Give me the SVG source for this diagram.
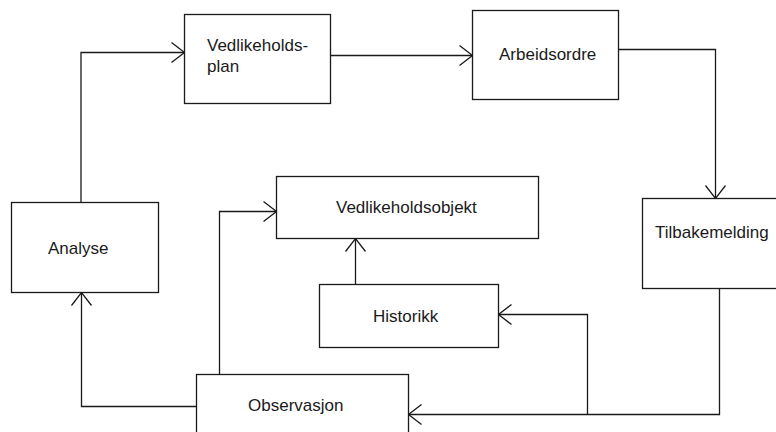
<svg xmlns="http://www.w3.org/2000/svg" width="776" height="432" viewBox="0 0 776 432">
  <defs>
    <style>
      .box { fill: #ffffff; stroke: #1a1a1a; stroke-width: 1.3; }
      .lbl { font-family: "Liberation Sans", Arial, sans-serif; font-size: 17px; fill: #1a1a1a; }
      .edge { fill: none; stroke: #1a1a1a; stroke-width: 1.3; marker-end: url(#open); }
      .plain { fill: none; stroke: #1a1a1a; stroke-width: 1.3; }
    </style>
    <marker id="open" viewBox="-14 -12 16 24" refX="0" refY="0" markerWidth="16" markerHeight="24" markerUnits="userSpaceOnUse" orient="auto">
      <path d="M -13 -10 L 0 0 L -13 10" fill="none" stroke="#1a1a1a" stroke-width="1.3"/>
    </marker>
  </defs>
  <rect width="776" height="432" fill="#ffffff"/>

  <g id="connectors">
    <path class="edge" d="M 81 202.5 V 52.5 H 184.5"/>
    <path class="edge" d="M 331 55.5 H 472.5"/>
    <path class="edge" d="M 618.5 49.5 H 715.5 V 198.5"/>
    <path class="edge" d="M 719.5 288.5 V 414.5 H 408.5"/>
    <path class="edge" d="M 587.5 414.5 V 314.5 H 498.5"/>
    <path class="edge" d="M 196.5 406.5 H 81.5 V 292.5"/>
    <path class="edge" d="M 219.5 374.5 V 211.5 H 276.5"/>
    <path class="edge" d="M 355.5 284.5 V 238.5"/>
  </g>

  <g id="vedlikeholdsplan">
    <rect class="box" x="184.5" y="14.5" width="146" height="89"/>
    <text class="lbl" x="207" y="50.5">Vedlikeholds-</text>
    <text class="lbl" x="207" y="72">plan</text>
  </g>

  <g id="arbeidsordre">
    <rect class="box" x="472.5" y="10.5" width="146" height="89"/>
    <text class="lbl" x="499" y="59.5">Arbeidsordre</text>
  </g>

  <g id="tilbakemelding">
    <rect class="box" x="642.5" y="198.5" width="140" height="90"/>
    <text class="lbl" x="655" y="237.5">Tilbakemelding</text>
  </g>

  <g id="vedlikeholdsobjekt">
    <rect class="box" x="276.5" y="176.5" width="262" height="62"/>
    <text class="lbl" x="336" y="212.5">Vedlikeholdsobjekt</text>
  </g>

  <g id="historikk">
    <rect class="box" x="319.5" y="284.5" width="179" height="63"/>
    <text class="lbl" x="373" y="321.5">Historikk</text>
  </g>

  <g id="analyse">
    <rect class="box" x="11.5" y="202.5" width="147" height="90"/>
    <text class="lbl" x="48" y="253.5">Analyse</text>
  </g>

  <g id="observasjon">
    <rect class="box" x="196.5" y="374.5" width="212" height="70"/>
    <text class="lbl" x="248" y="411">Observasjon</text>
  </g>
</svg>
